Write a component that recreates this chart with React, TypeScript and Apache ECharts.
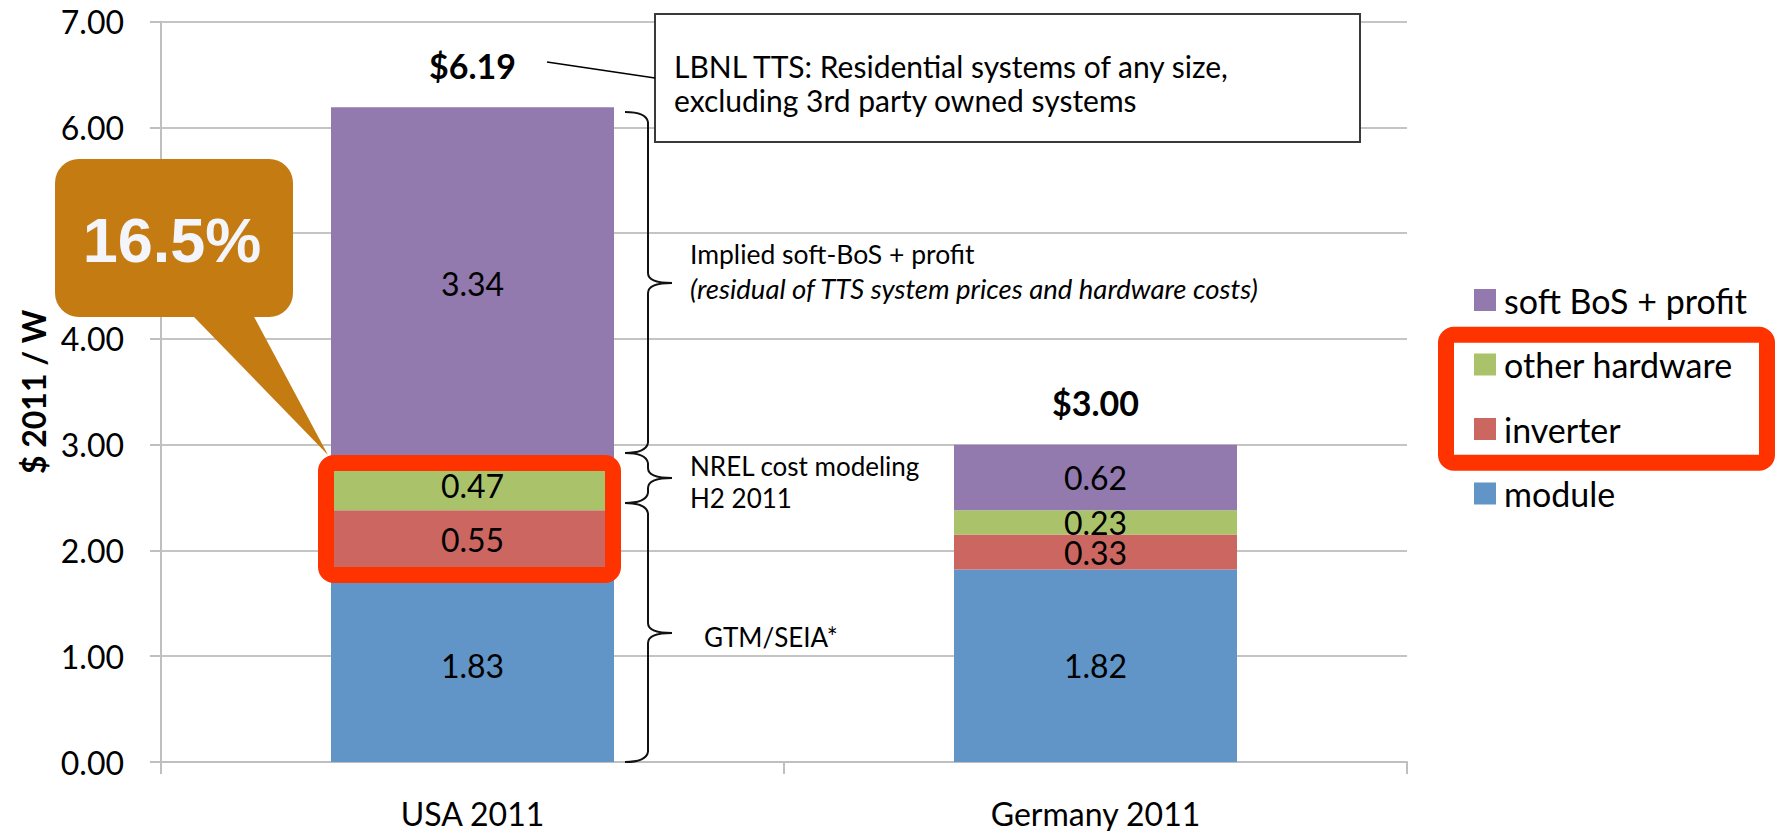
import React, { useEffect, useRef } from "react";
import * as echarts from "echarts";

const categories = ["USA 2011", "Germany 2011"];
const moduleVals = [1.83, 1.82];
const inverterVals = [0.55, 0.33];
const otherHwVals = [0.47, 0.23];
const softBosVals = [3.34, 0.62];
const totals = [6.19, 3.0];
const legendOrder = ["soft BoS + profit", "other hardware", "inverter", "module"];

const FONT = "Lato";
const st = { stroke: "#111", lineWidth: 2, fill: "rgba(0,0,0,0)" };

function brace(x: number, y1: number, ym: number, y2: number) {
  const h1 = Math.min(10, (ym - y1) / 2.5);
  const h2 = Math.min(10, (y2 - ym) / 2.5);
  return [
    { type: "bezierCurve", z: 100, shape: { x1: x - 23, y1: y1, x2: x, y2: y1 + h1, cpx1: x - 2, cpy1: y1 }, style: st },
    { type: "line", z: 100, shape: { x1: x, y1: y1 + h1, x2: x, y2: ym - h1 }, style: st },
    { type: "bezierCurve", z: 100, shape: { x1: x, y1: ym - h1, x2: x + 24, y2: ym, cpx1: x, cpy1: ym }, style: st },
    { type: "bezierCurve", z: 100, shape: { x1: x + 24, y1: ym, x2: x, y2: ym + h2, cpx1: x, cpy1: ym }, style: st },
    { type: "line", z: 100, shape: { x1: x, y1: ym + h2, x2: x, y2: y2 - h2 }, style: st },
    { type: "bezierCurve", z: 100, shape: { x1: x, y1: y2 - h2, x2: x - 23, y2: y2, cpx1: x - 2, cpy1: y2 }, style: st },
  ];
}

function txt(text: string, x: number, y: number, font: string, fill = "#000", align = "left") {
  return {
    type: "text",
    z: 101,
    x,
    y,
    style: { text, font, fill, align, verticalAlign: "middle", textAlign: align, textVerticalAlign: "middle" },
  };
}

export default function App() {
  const ref = useRef<HTMLDivElement>(null);
  useEffect(() => {
    if (!ref.current) return;
    const chart = echarts.init(ref.current, null, { renderer: "svg" });
    const barLabel = {
      show: true,
      position: "inside",
      formatter: (p: any) => Number(p.value).toFixed(2),
      fontFamily: FONT,
      fontSize: 32,
      color: "#000",
    };
    const mkBar = (name: string, data: number[], color: string) => ({
      name,
      type: "bar",
      stack: "total",
      data,
      barWidth: 283,
      itemStyle: { color },
      label: barLabel,
      emphasis: { disabled: true },
    });
    const graphic: any[] = [
      // LBNL box
      {
        type: "rect",
        z: 100,
        shape: { x: 655, y: 14, width: 705, height: 128 },
        style: { fill: "#fff", stroke: "#3a3a3a", lineWidth: 2 },
      },
      txt("LBNL TTS: Residential systems of any size,", 674, 66, `30px ${FONT}`),
      txt("excluding 3rd party owned systems", 674, 100, `30px ${FONT}`),
      { type: "line", z: 100, shape: { x1: 547, y1: 62, x2: 655, y2: 78 }, style: { stroke: "#000", lineWidth: 1.5 } },
      // braces
      ...brace(648, 112, 283, 453),
      ...brace(648, 453, 478, 503),
      ...brace(648, 503, 633, 762),
      txt("Implied soft-BoS + profit", 690, 254, `26.5px ${FONT}`),
      txt("(residual of TTS system prices and hardware costs)", 690, 288, `italic 27.5px ${FONT}`),
      txt("NREL cost modeling", 690, 466, `26px ${FONT}`),
      txt("H2 2011", 690, 498, `26px ${FONT}`),
      txt("GTM/SEIA*", 704, 637, `26px ${FONT}`),
      // callout bubble
      {
        type: "polygon",
        z: 102,
        shape: { points: [[177.5, 300], [245, 300], [328, 455]] },
        style: { fill: "#C47B12" },
      },
      {
        type: "rect",
        z: 102,
        shape: { x: 55, y: 159, width: 238, height: 158, r: 24 },
        style: { fill: "#C47B12" },
      },
      { ...txt("16.5%", 172, 240, `bold 63px "Liberation Sans"`, "#F3F5FB", "center"), z: 103 },
      // red highlight boxes
      {
        type: "rect",
        z: 104,
        shape: { x: 326, y: 463, width: 287, height: 112, r: 8 },
        style: { fill: "rgba(0,0,0,0)", stroke: "#FF3300", lineWidth: 16 },
      },
      {
        type: "rect",
        z: 104,
        shape: { x: 1446, y: 334.7, width: 321, height: 128, r: 8 },
        style: { fill: "rgba(0,0,0,0)", stroke: "#FF3300", lineWidth: 16 },
      },
    ];
    chart.setOption({
      animation: false,
      backgroundColor: "#fff",
      textStyle: { fontFamily: FONT },
      grid: { left: 161, right: 370, top: 21.7, bottom: 68.3, containLabel: false },
      legend: {
        data: legendOrder,
        orient: "vertical",
        left: 1474,
        top: 283,
        padding: 0,
        itemGap: 30.5,
        itemWidth: 22,
        itemHeight: 22,
        icon: "rect",
        selectedMode: false,
        textStyle: { fontFamily: FONT, fontSize: 34, color: "#000", lineHeight: 22, padding: [0, 0, 0, 3] },
      },
      xAxis: {
        type: "category",
        data: categories,
        axisLine: { lineStyle: { color: "#bfbfbf", width: 2 } },
        axisTick: { show: true, length: 12, lineStyle: { color: "#bfbfbf", width: 2 } },
        axisLabel: { margin: 33, fontFamily: FONT, fontSize: 32, color: "#000", lineHeight: 36 },
        splitLine: { show: false },
      },
      yAxis: {
        type: "value",
        min: 0,
        max: 7,
        interval: 1,
        name: "$ 2011 / W",
        nameLocation: "middle",
        nameGap: 112,
        nameTextStyle: { fontFamily: FONT, fontWeight: "bold", fontSize: 32, color: "#000" },
        axisLine: { show: true, lineStyle: { color: "#bfbfbf", width: 2 } },
        axisTick: { show: true, length: 11, lineStyle: { color: "#bfbfbf", width: 2 } },
        axisLabel: {
          margin: 37,
          fontFamily: FONT,
          fontSize: 32,
          color: "#000",
          formatter: (v: number) => v.toFixed(2),
        },
        splitLine: { lineStyle: { color: "#c4c4c4", width: 2 } },
      },
      series: [
        mkBar("module", moduleVals, "#6295C7"),
        mkBar("inverter", inverterVals, "#CC6660"),
        mkBar("other hardware", otherHwVals, "#AAC36B"),
        mkBar("soft BoS + profit", softBosVals, "#9279AE"),
        {
          name: "total",
          type: "custom",
          silent: true,
          z: 10,
          data: totals.map((t, i) => [i, t]),
          encode: { x: 0, y: 1 },
          renderItem: (params: any, api: any) => {
            const v = api.value(1);
            const pt = api.coord([api.value(0), v]);
            return {
              type: "text",
              x: pt[0],
              y: pt[1] - 42,
              style: {
                text: "$" + Number(v).toFixed(2),
                font: `bold 34px ${FONT}`,
                fill: "#000",
                align: "center",
                verticalAlign: "middle",
              },
            };
          },
        },
      ],
      graphic: { elements: graphic },
    });
    return () => chart.dispose();
  }, []);
  return (
    <div
      ref={ref}
      style={{ position: "fixed", left: 0, top: 0, width: 1777, height: 831, background: "#fff" }}
    />
  );
}
